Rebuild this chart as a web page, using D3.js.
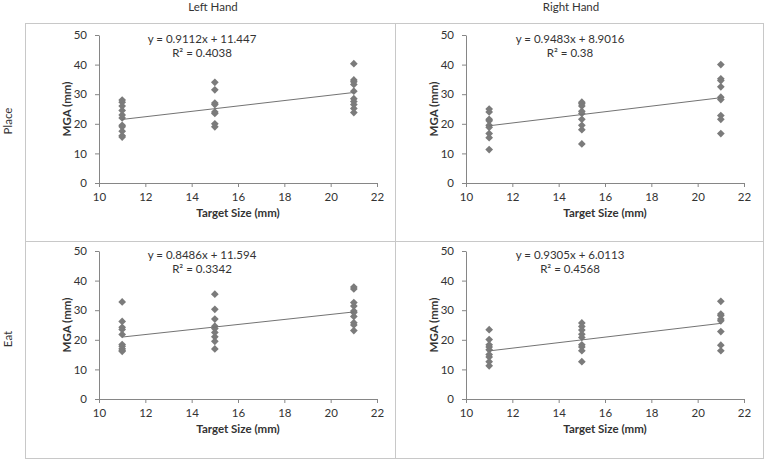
<!DOCTYPE html>
<html>
<head>
<meta charset="utf-8">
<script src="https://cdn.jsdelivr.net/npm/d3@7"></script>
<style>
	body { margin: 0; background: #fff; }
	svg text { font-family: Lato, "Open Sans", sans-serif; fill: #333; }
	.axis path, .axis line { stroke: #868686; }
	.axis text { font-size: 11.5px; fill: #333; }
</style>
</head>
<body>
<svg id="chart"></svg>
<script>
/*=================
=== The data
=================*/
var targetSizes = [11, 15, 21];
var xTicks = [10, 12, 14, 16, 18, 20, 22];
var yTicks = [0, 10, 20, 30, 40, 50];
var handLabels = ['Left Hand', 'Right Hand'];
var taskLabels = ['Place', 'Eat'];

// MGA per target size (11, 15, 21)
var placeLeft = [
	[28, 27.3, 26, 24.5, 23, 22, 19.5, 19, 17.5, 16, 15.5],
	[34, 31.5, 27, 26.5, 24, 23.5, 20, 19],
	[40.3, 34.8, 34.2, 33.3, 31, 28.5, 27.5, 26.5, 25.2, 23.8]
];
var placeRight = [
	[25, 24, 21.5, 21, 19.5, 18.8, 16.7, 15.3, 11.3],
	[27.3, 26.8, 26, 24.2, 23.5, 21.5, 19.5, 18, 13.2],
	[40, 35.2, 34.6, 32.5, 29, 28.2, 22.8, 21.5, 16.7]
];
var eatLeft = [
	[32.8, 26.2, 24.2, 23.5, 21.8, 18.4, 17.8, 17, 16.5, 16.1],
	[35.4, 30.3, 27, 24.6, 23.8, 22.5, 21, 19.5, 16.9],
	[37.8, 37.2, 32.6, 31.4, 29.7, 29.2, 27.9, 25.8, 25, 23.1]
];
var eatRight = [
	[23.4, 20.1, 18.3, 17.6, 16.6, 15, 14.2, 12.6, 11.2],
	[25.7, 24.5, 23.3, 21.9, 20.8, 18.3, 17.6, 16.3, 12.6],
	[33, 28.7, 28.2, 27, 26.4, 22.8, 18.2, 16.3]
];

var slopes = [0.9112, 0.9483, 0.8486, 0.9305];
var intercepts = [11.447, 8.9016, 11.594, 6.0113];
var equations = ['y = 0.9112x + 11.447', 'y = 0.9483x + 8.9016', 'y = 0.8486x + 11.594', 'y = 0.9305x + 6.0113'];
var rSquared = ['R² = 0.4038', 'R² = 0.38', 'R² = 0.3342', 'R² = 0.4568'];

/*=================
=== The vars
=================*/
var width = 766, height = 462;
var svg = d3.select('#chart').attr('width', width).attr('height', height);

var panels = [
	{ data: placeLeft, left: 99, right: 377, top: 35, bottom: 183 },
	{ data: placeRight, left: 466, right: 744, top: 35, bottom: 183 },
	{ data: eatLeft, left: 99, right: 377, top: 251, bottom: 399 },
	{ data: eatRight, left: 466, right: 744, top: 251, bottom: 399 }
];

// frame
var frame = svg.append('g').attr('fill', 'none').attr('stroke', '#c8c8c8');
frame.append('rect').attr('x', 25.5).attr('y', 23.5).attr('width', 738).attr('height', 435);
frame.append('line').attr('x1', 395.5).attr('x2', 395.5).attr('y1', 23.5).attr('y2', 458.5);
frame.append('line').attr('x1', 25.5).attr('x2', 763.5).attr('y1', 241.5).attr('y2', 241.5);

svg.selectAll('.hand')
	.data(handLabels)
	.enter().append('text')
	.attr('x', function (d, i) { return i ? 571 : 213; })
	.attr('y', 11)
	.attr('text-anchor', 'middle')
	.style('font-size', '11.5px')
	.text(function (d) { return d; });

svg.selectAll('.task')
	.data(taskLabels)
	.enter().append('text')
	.attr('transform', function (d, i) { return 'translate(12,' + (i ? 339 : 121) + ') rotate(-90)'; })
	.attr('text-anchor', 'middle')
	.style('font-size', '11.5px')
	.text(function (d) { return d; });

var diamond = d3.symbol().type(d3.symbolSquare).size(30);

panels.forEach(function (p, k) {
	var x = d3.scaleLinear().domain([10, 22]).range([p.left, p.right]);
	var y = d3.scaleLinear().domain([0, 50]).range([p.bottom, p.top]);
	var g = svg.append('g');

	g.append('g')
		.attr('class', 'axis')
		.attr('transform', 'translate(0,' + p.bottom + ')')
		.call(d3.axisBottom(x).tickValues(xTicks).tickSize(4).tickSizeOuter(0).tickPadding(6));

	g.append('g')
		.attr('class', 'axis')
		.attr('transform', 'translate(' + p.left + ',0)')
		.call(d3.axisLeft(y).tickValues(yTicks).tickSize(4).tickSizeOuter(0).tickPadding(8));

	g.append('text')
		.attr('x', (p.left + p.right) / 2)
		.attr('y', p.bottom + 34)
		.attr('text-anchor', 'middle')
		.style('font-size', '11.5px')
		.style('font-weight', 'bold')
		.text('Target Size (mm)');

	g.append('text')
		.attr('transform', 'translate(' + (p.left - 28) + ',' + ((p.top + p.bottom) / 2) + ') rotate(-90)')
		.attr('text-anchor', 'middle')
		.style('font-size', '11.5px')
		.style('font-weight', 'bold')
		.text('MGA (mm)');

	// points
	var pts = [];
	p.data.forEach(function (vals, i) {
		vals.forEach(function (v) { pts.push({ x: targetSizes[i], y: v }); });
	});
	g.selectAll('.pt')
		.data(pts)
		.enter().append('path')
		.attr('d', diamond)
		.attr('transform', function (d) { return 'translate(' + x(d.x) + ',' + y(d.y) + ') rotate(45)'; })
		.attr('fill', '#7b7b7b');

	// trend line
	var xr = [targetSizes[0], targetSizes[targetSizes.length - 1]];
	g.append('path')
		.datum(xr)
		.attr('fill', 'none')
		.attr('stroke', '#737373')
		.attr('stroke-width', 1)
		.attr('d', d3.line()
			.x(function (d) { return x(d); })
			.y(function (d) { return y(slopes[k] * d + intercepts[k]); }));

	var cx = k % 2 ? 570 : 202;
	g.append('text')
		.attr('x', cx).attr('y', p.top + 8)
		.attr('text-anchor', 'middle')
		.style('font-size', '11.5px')
		.text(equations[k]);
	g.append('text')
		.attr('x', cx).attr('y', p.top + 22)
		.attr('text-anchor', 'middle')
		.style('font-size', '11.5px')
		.text(rSquared[k]);
});
</script>
</body>
</html>
